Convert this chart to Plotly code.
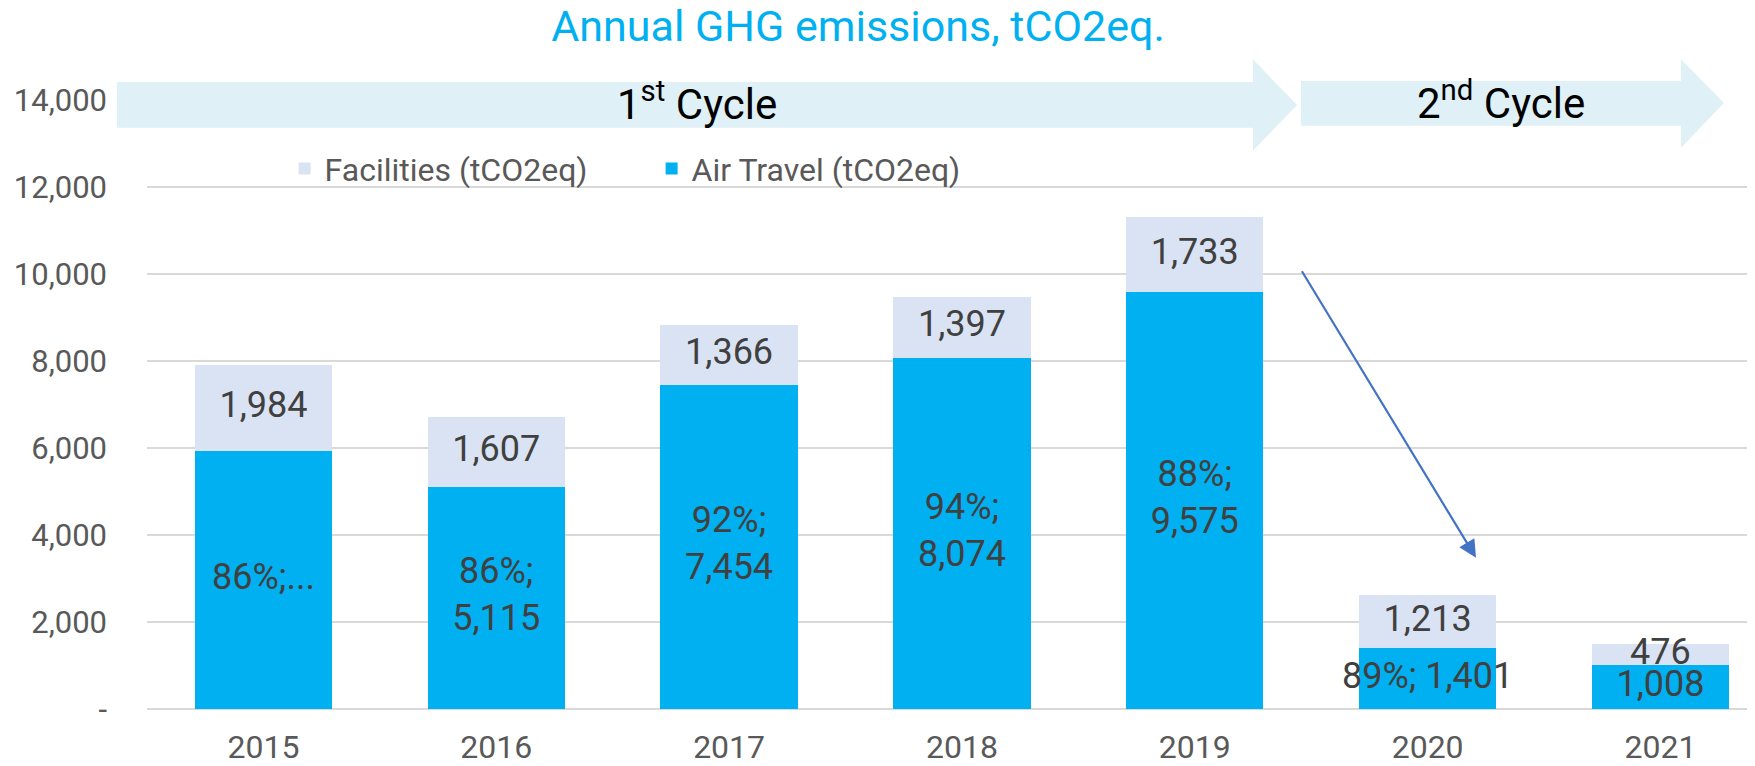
import plotly.graph_objects as go

# ---------------- data ----------------
years = ["2015", "2016", "2017", "2018", "2019", "2020", "2021"]
air_travel = [5920, 5115, 7454, 8074, 9575, 1401, 1008]
facilities = [1984, 1607, 1366, 1397, 1733, 1213, 476]
air_labels = ["86%;...", "86%;<br>5,115", "92%;<br>7,454", "94%;<br>8,074",
              "88%;<br>9,575", "89%; 1,401", "1,008"]
fac_labels = ["1,984", "1,607", "1,366", "1,397", "1,733", "1,213", "476"]
y_tick_vals = [0, 2000, 4000, 6000, 8000, 10000, 12000, 14000]
y_tick_text = ["-", "2,000", "4,000", "6,000", "8,000", "10,000", "12,000", "14,000"]
series_names = ["Air Travel (tCO2eq)", "Facilities (tCO2eq)"]
title_text = "Annual GHG emissions, tCO2eq."
cycle_labels = ["1<sup>st</sup> Cycle", "2<sup>nd</sup> Cycle"]

# ---------------- geometry ----------------
OFF = 8  # page body margin
W, H = 1755 - OFF, 766 - OFF
L, T, B, R = 139, 92, 54, 0
PW, PH = W - L - R, H - T - B


def px(x):  # screen x -> paper
    return (x - OFF - L) / PW


def py(y):  # screen y -> paper
    return (H - B - (y - OFF)) / PH


def arrow_path(x0, x1, xt, by0, by1, hy0, hy1, ty):
    pts = [(x0, by0), (x1, by0), (x1, hy0), (xt, ty), (x1, hy1), (x1, by1), (x0, by1)]
    return "M " + " L ".join(f"{px(a):.5f},{py(b):.5f}" for a, b in pts) + " Z"


AIR_C = "#00B0F0"
FAC_C = "#DAE3F3"
LBL_C = "#404040"
TICK_C = "#595959"
FONT = "Roboto"

fig = go.Figure()
fig.add_trace(go.Bar(x=years, y=air_travel, name=series_names[0], marker_color=AIR_C,
                     marker_line_width=0, width=0.59, hoverinfo="skip"))
fig.add_trace(go.Bar(x=years, y=facilities, name=series_names[1], marker_color=FAC_C,
                     marker_line_width=0, width=0.59, hoverinfo="skip"))

fig.add_trace(go.Scatter(x=years, y=[a / 2 for a in air_travel], text=air_labels,
                         mode="text", textposition="middle center",
                         textfont=dict(family=FONT, size=36, color=LBL_C),
                         showlegend=False, hoverinfo="skip", cliponaxis=False))
fig.add_trace(go.Scatter(x=years, y=[a + f / 2 for a, f in zip(air_travel, facilities)],
                         text=fac_labels, mode="text", textposition="middle center",
                         textfont=dict(family=FONT, size=36, color=LBL_C),
                         showlegend=False, hoverinfo="skip", cliponaxis=False))

shapes = [
    dict(type="path", xref="paper", yref="paper",
         path=arrow_path(117, 1253, 1297, 82, 128, 59, 151, 105),
         fillcolor="#DFF0F6", line=dict(width=0), layer="above"),
    dict(type="path", xref="paper", yref="paper",
         path=arrow_path(1301, 1681, 1724, 81, 126, 59, 148, 103),
         fillcolor="#DFF0F6", line=dict(width=0), layer="above"),
]

annotations = [
    dict(text=cycle_labels[0], x=px(697), y=py(102), xref="paper", yref="paper",
         showarrow=False, xanchor="center", yanchor="middle",
         font=dict(family=FONT, size=42, color="#000000")),
    dict(text=cycle_labels[1], x=px(1501), y=py(101), xref="paper", yref="paper",
         showarrow=False, xanchor="center", yanchor="middle",
         font=dict(family=FONT, size=42, color="#000000")),
    dict(text="", x=px(1476), y=py(560), xref="paper", yref="paper",
         ax=1301 - 1476, ay=272 - 560, axref="pixel", ayref="pixel",
         showarrow=True, arrowhead=2, arrowsize=1.6, arrowwidth=2.2,
         arrowcolor="#4472C4", standoff=0, startstandoff=0),
]

fig.update_layout(
    width=W, height=H,
    margin=dict(l=L, r=R, t=T, b=B, pad=0),
    paper_bgcolor="white", plot_bgcolor="white",
    barmode="stack",
    font=dict(family=FONT, color=TICK_C),
    title=dict(text=title_text, x=(858 - OFF) / W, xanchor="center", y=1 - 18 / H,
               yanchor="middle", xref="container", yref="container",
               font=dict(family=FONT, size=43, color=AIR_C)),
    showlegend=True,
    legend=dict(orientation="h", x=px(284.6), xanchor="left", y=py(169), yanchor="middle",
                traceorder="reversed", bgcolor="rgba(0,0,0,0)",
                font=dict(family=FONT, size=32, color=TICK_C),
                entrywidth=322, entrywidthmode="pixels", itemwidth=30),
    xaxis=dict(type="category", range=[-0.5, 6.406], showgrid=False, zeroline=False,
               showline=False, ticks="", tickfont=dict(family=FONT, size=32, color=TICK_C),
               ticklabelstandoff=16, fixedrange=True),
    yaxis=dict(range=[0, 14000], tickvals=y_tick_vals, ticktext=y_tick_text,
               showgrid=True, gridcolor="#D9D9D9", gridwidth=2,
               zeroline=True, zerolinecolor="#D9D9D9", zerolinewidth=2,
               showline=False, ticks="", tickfont=dict(family=FONT, size=31, color=TICK_C),
               ticklabelstandoff=39, fixedrange=True),
    shapes=shapes,
    annotations=annotations,
)

fig.write_html("out.html")
